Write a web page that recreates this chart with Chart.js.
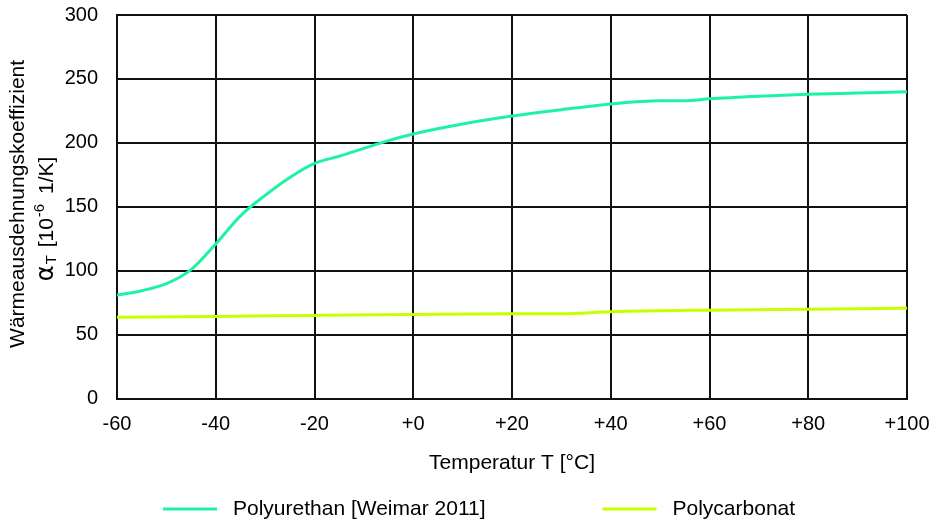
<!DOCTYPE html>
<html>
<head>
<meta charset="utf-8">
<script src="https://cdn.jsdelivr.net/npm/chart.js@4/dist/chart.umd.min.js"></script>
<style>
  html, body { margin: 0; padding: 0; background: #fff; }
  #wrap { width: 938px; height: 522px; }
</style>
</head>
<body>
<div id="wrap"><canvas id="ausdehnungChart" width="938" height="522"></canvas></div>
<script>
// Waermeausdehnungskoeffizient ueber der Temperatur

const puTemps  = [-60, -55, -50, -45, -40, -35, -30, -25, -20, -15, -10, -5, 0, 10, 20, 30, 40, 50, 55, 60, 70, 80, 90, 100];
const puValues = [81, 84.5, 90, 101, 121, 143, 159, 173, 184, 189.6, 195.8, 201.8, 207, 214.8, 221, 226, 230.5, 233, 233, 234.5, 236.5, 238, 239, 240];

const pcTemps  = [-60, -40, -20, 0, 20, 30, 40, 60, 80, 100];
const pcValues = [63.8, 64.4, 65.2, 65.9, 66.4, 66.4, 68, 69.3, 70, 70.7];

const seriesNames = ["Polyurethan [Weimar 2011]", "Polycarbonat"];
const seriesColors = ['#1EF3A3', '#C8FF00'];

const xTicks = [-60, -40, -20, 0, 20, 40, 60, 80, 100];
const yTicks = [0, 50, 100, 150, 200, 250, 300];

const FONT = "'Liberation Sans', Arial, sans-serif";

function toPoints(xs, ys) {
    return xs.map((x, i) => ({ x: x, y: ys[i] }));
}

// y-Achsentitel mit Index und Exponent
const yTitlePlugin = {
    id: 'yTitle',
    afterDraw(chart) {
        const ctx = chart.ctx;
        const area = chart.chartArea;
        const cy = (area.top + area.bottom) / 2;
        ctx.save();
        ctx.fillStyle = '#000';
        ctx.textBaseline = 'middle';

        ctx.translate(18, cy - 3);
        ctx.rotate(-Math.PI / 2);
        ctx.font = '21px ' + FONT;
        ctx.textAlign = 'center';
        ctx.fillText('Wärmeausdehnungskoeffizient', 0, 0);
        ctx.restore();

        const parts = [
            { t: 'α', font: "24px 'DejaVu Sans'", dy: 0, gap: 1 },
            { t: 'T', font: '15px ' + FONT, dy: 5, gap: 2 },
            { t: ' [10', font: '21px ' + FONT, dy: 0, gap: 1 },
            { t: '-6', font: '15px ' + FONT, dy: -7, gap: 4 },
            { t: ' 1/K]', font: '21px ' + FONT, dy: 0, gap: 0 }
        ];
        ctx.save();
        ctx.fillStyle = '#000';
        ctx.textBaseline = 'middle';
        ctx.textAlign = 'left';
        ctx.translate(47, cy + 12);
        ctx.rotate(-Math.PI / 2);
        let total = 0;
        parts.forEach(p => {
            ctx.font = p.font;
            p.w = ctx.measureText(p.t).width;
            total += p.w + p.gap;
        });
        let x = -total / 2;
        parts.forEach(p => {
            ctx.font = p.font;
            ctx.fillText(p.t, x, p.dy);
            x += p.w + p.gap;
        });
        ctx.restore();
    }
};

// Legende unter der Achse
const legendPlugin = {
    id: 'lineLegend',
    afterDraw(chart) {
        const ctx = chart.ctx;
        const y = 509;
        let x = chart.chartArea.left + 46;
        ctx.save();
        ctx.font = '21px ' + FONT;
        ctx.textBaseline = 'middle';
        ctx.textAlign = 'left';
        chart.data.datasets.forEach(ds => {
            ctx.strokeStyle = ds.borderColor;
            ctx.lineWidth = 3;
            ctx.beginPath();
            ctx.moveTo(x, y);
            ctx.lineTo(x + 54, y);
            ctx.stroke();
            ctx.fillStyle = '#000';
            ctx.fillText(ds.label, x + 70, y);
            x += 70 + ctx.measureText(ds.label).width + 117;
        });
        ctx.restore();
    }
};

new Chart(document.getElementById('ausdehnungChart').getContext('2d'), {
    type: 'line',
    data: {
        datasets: [{
            label: seriesNames[0],
            data: toPoints(puTemps, puValues),
            borderColor: seriesColors[0],
            backgroundColor: seriesColors[0],
            borderWidth: 3,
            pointRadius: 0,
            cubicInterpolationMode: 'monotone',
            fill: false
        }, {
            label: seriesNames[1],
            data: toPoints(pcTemps, pcValues),
            borderColor: seriesColors[1],
            backgroundColor: seriesColors[1],
            borderWidth: 3,
            pointRadius: 0,
            cubicInterpolationMode: 'monotone',
            fill: false
        }]
    },
    options: {
        responsive: false,
        animation: false,
        layout: {
            padding: { top: 15, right: 31, left: 0, bottom: 46 }
        },
        scales: {
            x: {
                type: 'linear',
                min: -60,
                max: 100,
                afterBuildTicks: axis => { axis.ticks = xTicks.map(v => ({ value: v })); },
                afterFit: axis => { axis.paddingLeft = 0; axis.paddingRight = 0; },
                grid: { color: '#111', lineWidth: 2, drawTicks: false },
                border: { display: true, color: '#111', width: 2 },
                ticks: {
                    padding: 14,
                    color: '#000',
                    font: { family: FONT, size: 20 },
                    maxRotation: 0,
                    callback: v => (v >= 0 ? '+' + v : '' + v)
                },
                title: {
                    display: true,
                    text: 'Temperatur T [°C]',
                    color: '#000',
                    font: { family: FONT, size: 21 },
                    padding: { top: 0, bottom: 0 }
                }
            },
            y: {
                min: 0,
                max: 300,
                afterBuildTicks: axis => { axis.ticks = yTicks.map(v => ({ value: v })); },
                afterFit: axis => { axis.width = 117; axis.paddingTop = 0; axis.paddingBottom = 0; },
                grid: { color: '#111', lineWidth: 2, drawTicks: false },
                border: { display: true, color: '#111', width: 2 },
                ticks: {
                    padding: 19,
                    color: '#000',
                    font: { family: FONT, size: 20 }
                }
            }
        },
        plugins: {
            legend: { display: false },
            tooltip: { enabled: false }
        }
    },
    plugins: [yTitlePlugin, legendPlugin]
});
</script>
</body>
</html>
